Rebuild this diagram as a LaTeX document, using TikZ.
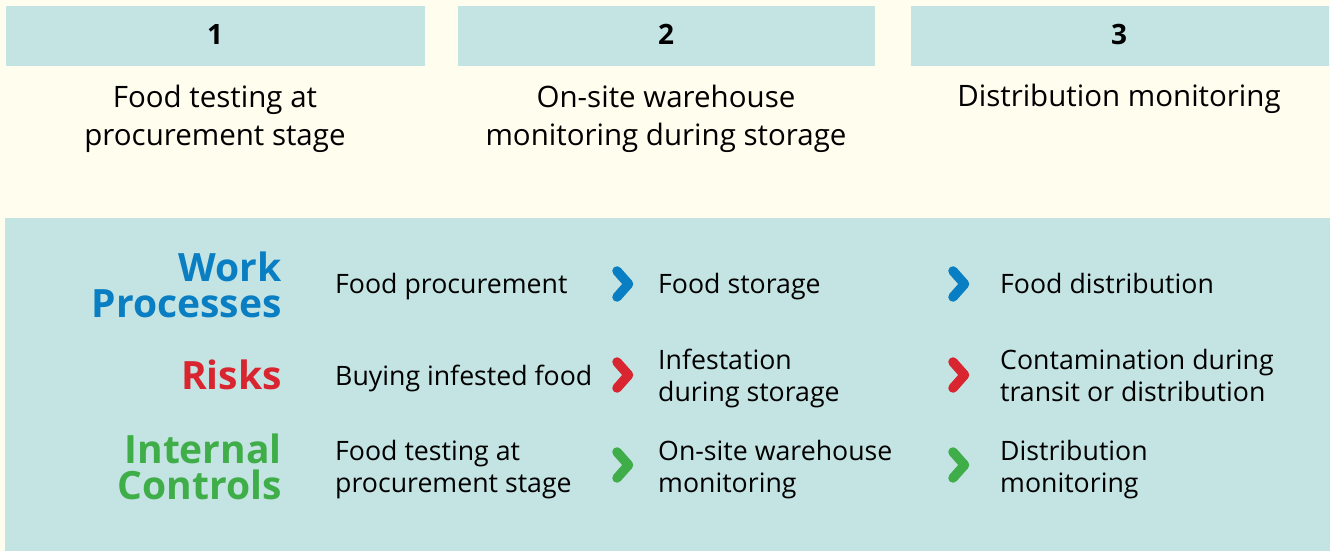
\documentclass[tikz,border=0pt]{standalone}
\usepackage{fontspec}
\setmainfont{Open Sans}
\definecolor{cream}{HTML}{FFFDEE}
\definecolor{teal}{HTML}{C4E3E3}
\definecolor{wpblue}{HTML}{0A7EC2}
\definecolor{riskred}{HTML}{D9252F}
\definecolor{ctlgreen}{HTML}{3FAE49}
% multi-line nodes are placed by the baseline of their last line
\tikzset{
  band/.style={fill=teal, draw=none},
  stagenum/.style={font=\fontsize{28}{32}\selectfont\bfseries, inner sep=0pt, anchor=base},
  stagetext/.style={font=\fontsize{29.5}{38}\selectfont, align=center, inner sep=0pt, anchor=base},
  rowlabel/.style={font=\fontsize{39}{36}\selectfont\bfseries, align=right, inner sep=0pt, anchor=base east},
  cell/.style={font=\fontsize{26.7}{32}\selectfont, align=left, inner sep=0pt, anchor=base west},
  chev/.style={line width=9.5pt, line cap=round, line join=round},
}
\newcommand{\chevron}[3]{% colour, x, y
  \draw[chev, #1] (#2,#3-13) -- (#2+11.5,#3) -- (#2,#3+13);}
\begin{document}
\begin{tikzpicture}[x=1pt, y=-1pt]
  % page and backgrounds
  \fill[cream] (0,0) rectangle (1330,551);
  \useasboundingbox (0,0) rectangle (1330,551);
  \fill[band] (6,6) rectangle (425,66);
  \fill[band] (458,6) rectangle (875,66);
  \fill[band] (911,6) rectangle (1329,66);
  \fill[band] (5,218) rectangle (1330,551);

  % stage headers
  \node[stagenum] (n1) at (215,45) {1};
  \node[stagenum] (n2) at (666,45) {2};
  \node[stagenum] (n3) at (1119,45) {3};
  \node[stagetext] (s1) at (215,145) {Food testing at\\procurement stage};
  \node[stagetext] (s2) at (666,145) {On-site warehouse\\monitoring during storage};
  \node[stagetext] (s3) at (1119,106) {Distribution monitoring};

  % row labels
  \node[rowlabel, text=wpblue] (lw) at (282,317) {Work\\Processes};
  \node[rowlabel, text=riskred] (lr) at (282,389) {Risks};
  \node[rowlabel, text=ctlgreen] (lc) at (282,499) {Internal\\Controls};

  % column 1
  \node[cell] (w1) at (335,293) {Food procurement};
  \node[cell] (r1) at (335,385) {Buying infested food};
  \node[cell] (c1) at (335,492) {Food testing at\\procurement stage};
  % column 2
  \node[cell] (w2) at (658,293) {Food storage};
  \node[cell] (r2) at (658,401) {Infestation\\during storage};
  \node[cell] (c2) at (658,492) {On-site warehouse\\monitoring};
  % column 3
  \node[cell] (w3) at (1000,293) {Food distribution};
  \node[cell] (r3) at (1000,401) {Contamination during\\transit or distribution};
  \node[cell] (c3) at (1000,492) {Distribution\\monitoring};

  % chevrons between columns
  \chevron{wpblue}{617}{284}
  \chevron{riskred}{617}{375}
  \chevron{ctlgreen}{617}{465}
  \chevron{wpblue}{953}{284}
  \chevron{riskred}{953}{375}
  \chevron{ctlgreen}{953}{465}
\end{tikzpicture}
\end{document}
